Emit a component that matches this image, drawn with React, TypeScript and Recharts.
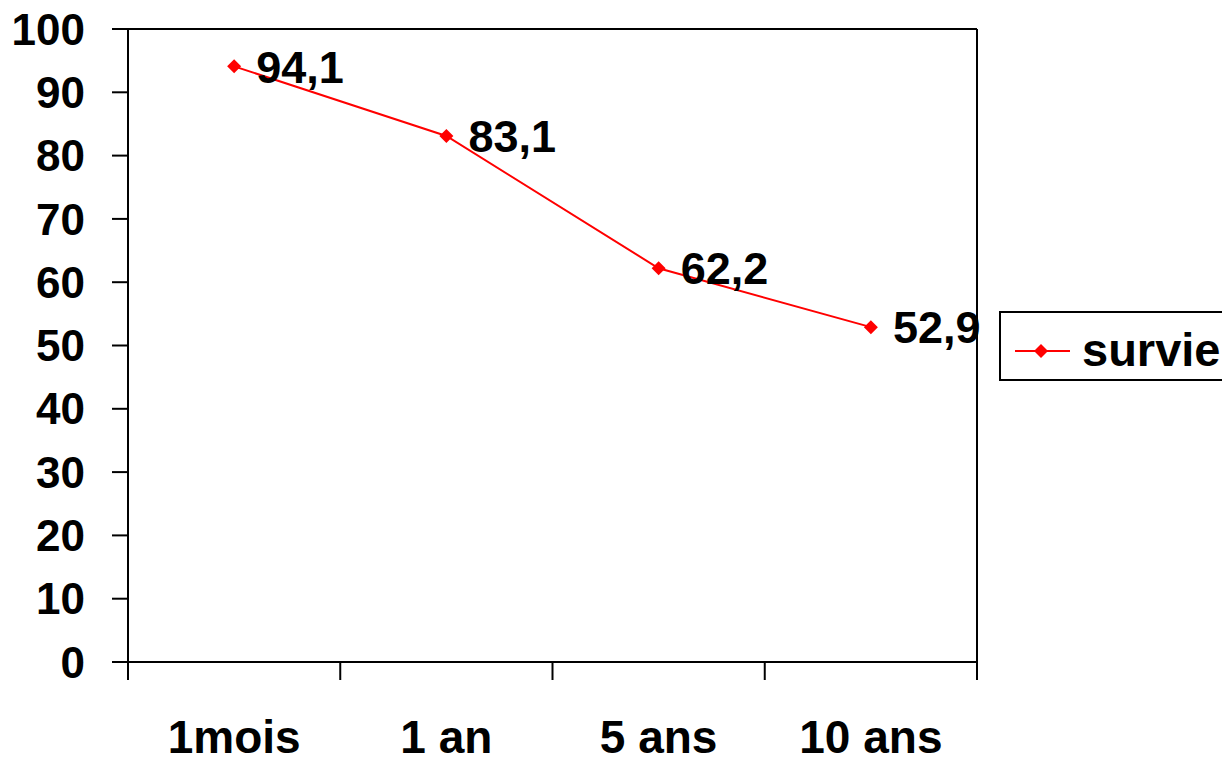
import { LineChart, Line, XAxis, YAxis, CartesianGrid, Legend, LabelList } from "recharts";

const categories = ["1mois", "1 an", "5 ans", "10 ans"];
const survie = [94.1, 83.1, 62.2, 52.9];
const yTicks = [0, 10, 20, 30, 40, 50, 60, 70, 80, 90, 100];

const data = categories.map((cat, i) => ({ cat, survie: survie[i] }));

const FONT = '"Liberation Sans", Arial, sans-serif';
const W = 1230;
const H = 763;
const margin = { top: 29, right: 252, bottom: 0, left: 0 };
const yAxisW = 128;
const plotW = W - yAxisW - margin.right - 1; // right axis takes 1px
const band = plotW / categories.length;

const XTick = (props: any) => {
  const { x, y, payload, index } = props;
  const half = band / 2;
  return (
    <g>
      <line x1={x - half} y1={y} x2={x - half} y2={y + 18} stroke="#000" strokeWidth={2} />
      {index === categories.length - 1 && (
        <line x1={x + half} y1={y} x2={x + half} y2={y + 18} stroke="#000" strokeWidth={2} />
      )}
      <text x={x} y={y + 91} textAnchor="middle" fontSize={46} fontWeight="bold" fontFamily={FONT} fill="#000">
        {payload.value}
      </text>
    </g>
  );
};

const Diamond = (props: any) => {
  const { cx, cy, index } = props;
  return (
    <path
      key={"d" + index}
      d={`M${cx} ${cy - 7} L${cx + 7} ${cy} L${cx} ${cy + 7} L${cx - 7} ${cy} Z`}
      fill="#FF0000"
    />
  );
};

const ValueLabel = (props: any) => {
  const { x, y, value } = props;
  return (
    <text x={x + 22} y={y} dy="0.36em" fontSize={45} fontWeight="bold" fontFamily={FONT} fill="#000">
      {String(value).replace(".", ",")}
    </text>
  );
};

// box is open on the right, it runs off the edge of the picture
const LegendBox = () => (
  <svg width={231} height={72} style={{ display: "block" }}>
    <rect x={0} y={0} width={231} height={70} fill="#fff" />
    <path d="M231 1 H1 V69 H231" fill="none" stroke="#000" strokeWidth={2} />
    <line x1={16} y1={40} x2={71} y2={40} stroke="#FF0000" strokeWidth={2} />
    <path d="M42 33 L49 40 L42 47 L35 40 Z" fill="#FF0000" />
    <text x={83} y={55} fontSize={47} fontWeight="bold" fontFamily={FONT} fill="#000">
      survie
    </text>
  </svg>
);

const App = () => {
  return (
    <div style={{ background: "#fff", margin: -8, width: W, height: H, overflow: "hidden" }}>
      <LineChart width={W} height={H} data={data} margin={margin}>
        <CartesianGrid vertical={false} stroke="#000" strokeWidth={2} />
        <XAxis
          dataKey="cat"
          height={H - margin.top - 633}
          padding={{ left: band / 2, right: band / 2 }}
          interval={0}
          tickLine={false}
          tickSize={0}
          tickMargin={0}
          axisLine={{ stroke: "#000", strokeWidth: 2 }}
          tick={<XTick />}
        />
        <YAxis
          yAxisId="left"
          width={yAxisW}
          domain={[0, 100]}
          ticks={yTicks}
          interval={0}
          tickSize={16}
          tickMargin={27}
          axisLine={{ stroke: "#000", strokeWidth: 2 }}
          tickLine={{ stroke: "#000", strokeWidth: 2 }}
          tick={{ fill: "#000", fontSize: 44, fontWeight: "bold", fontFamily: FONT }}
        />
        <YAxis
          yAxisId="right"
          orientation="right"
          width={1}
          domain={[0, 100]}
          tick={false}
          tickLine={false}
          axisLine={{ stroke: "#000", strokeWidth: 2 }}
        />
        <Line
          yAxisId="left"
          dataKey="survie"
          name="survie"
          stroke="#FF0000"
          strokeWidth={2}
          dot={Diamond}
          activeDot={false}
          isAnimationActive={false}
        >
          <LabelList dataKey="survie" content={<ValueLabel />} />
        </Line>
        <Legend
          layout="horizontal"
          verticalAlign="middle"
          align="center"
          content={<LegendBox />}
          wrapperStyle={{ left: 999, top: 311, width: 231, height: 72 }}
        />
      </LineChart>
    </div>
  );
};

export default App;
